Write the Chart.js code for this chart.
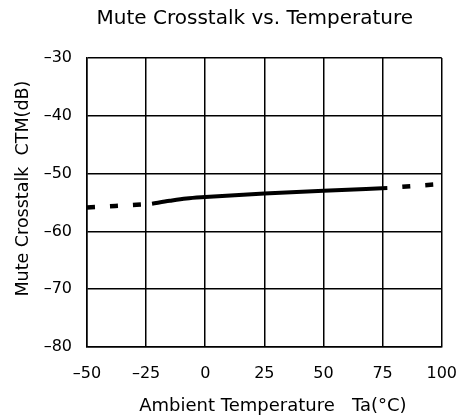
<!DOCTYPE html>
<html>
<head>
<meta charset="utf-8">
<script src="https://cdn.jsdelivr.net/npm/chart.js@4/dist/chart.umd.min.js"></script>
<style>
    html, body { margin: 0; padding: 0; background: #fff; }
    #chart_view { display: block; }
</style>
</head>
<body>
<canvas id="chart_view" width="474" height="419"></canvas>
<script>
// values
const solid_temp = [-22.5, -15, -8, 0, 25, 50, 77];
const solid_ctm = [-55.2, -54.7, -54.3, -54.05, -53.45, -52.95, -52.5];
const dash_left_temp = [-50, -38, -25];
const dash_left_ctm = [-55.85, -55.6, -55.3];
const dash_right_temp = [77, 100];
const dash_right_ctm = [-52.45, -51.8];

const x_ticks = [-50, -25, 0, 25, 50, 75, 100];
const y_ticks = [-80, -70, -60, -50, -40, -30];

const label_font = "'DejaVu Sans', sans-serif";

function to_points(xs, ys) {
    return xs.map((x, i) => ({ x: x, y: ys[i] }));
}

// the scan prints negative numbers with a long dash
function dash_minus(value) {
    return String(value).replace('-', '\u2013');
}

const chart_canvas = document.getElementById('chart_view');

new Chart(chart_canvas, {
    type: 'line',
    data: {
        datasets: [{
            label: 'measured',
            data: to_points(solid_temp, solid_ctm),
            borderColor: '#000',
            borderWidth: 4,
            pointRadius: 0,
            cubicInterpolationMode: 'monotone',
            fill: false
        }, {
            label: 'extrapolated low',
            data: to_points(dash_left_temp, dash_left_ctm),
            borderColor: '#000',
            borderWidth: 4.5,
            borderDash: [8, 15],
            pointRadius: 0,
            cubicInterpolationMode: 'monotone',
            fill: false
        }, {
            label: 'extrapolated high',
            data: to_points(dash_right_temp, dash_right_ctm),
            borderColor: '#000',
            borderWidth: 4.5,
            borderDash: [8, 15],
            borderDashOffset: 8,
            pointRadius: 0,
            fill: false
        }]
    },
    options: {
        responsive: false,
        animation: false,
        devicePixelRatio: 1,
        layout: {
            padding: { left: 0, right: 26, top: 0, bottom: 0 }
        },
        scales: {
            x: {
                type: 'linear',
                min: -50,
                max: 100,
                afterBuildTicks: (scale) => {
                    scale.ticks = x_ticks.map(v => ({ value: v }));
                },
                afterFit: (scale) => {
                    scale.height = 72;
                },
                grid: {
                    color: '#000',
                    lineWidth: 1.5,
                    drawTicks: false
                },
                border: { color: '#000', width: 1.5 },
                ticks: {
                    color: '#000',
                    padding: 17,
                    font: { family: label_font, size: 16 },
                    callback: (value) => dash_minus(value)
                },
                title: {
                    display: true,
                    text: '   Ambient Temperature   Ta(\u00b0C)',
                    color: '#000',
                    font: { family: label_font, size: 18 },
                    padding: { top: 0, bottom: 2 }
                }
            },
            y: {
                min: -80,
                max: -30,
                afterBuildTicks: (scale) => {
                    scale.ticks = y_ticks.map(v => ({ value: v }));
                },
                afterFit: (scale) => {
                    scale.width = 87;
                },
                grid: {
                    color: '#000',
                    lineWidth: 1.5,
                    drawTicks: false
                },
                border: { color: '#000', width: 1.5 },
                ticks: {
                    color: '#000',
                    padding: 15,
                    font: { family: label_font, size: 16 },
                    callback: (value) => dash_minus(value)
                },
                title: {
                    display: true,
                    // leading spaces lift the label a little, like the scan
                    text: '     Mute Crosstalk  CTM(dB)',
                    color: '#000',
                    font: { family: label_font, size: 17.5 },
                    padding: { top: 12.5, bottom: 0 }
                }
            }
        },
        plugins: {
            title: {
                display: true,
                text: 'Mute Crosstalk vs. Temperature   ',
                color: '#000',
                fullSize: false,
                font: { family: label_font, size: 20, weight: 'normal' },
                padding: { top: 7, bottom: 27 }
            },
            legend: { display: false },
            tooltip: { enabled: false }
        }
    }
});
</script>
</body>
</html>
